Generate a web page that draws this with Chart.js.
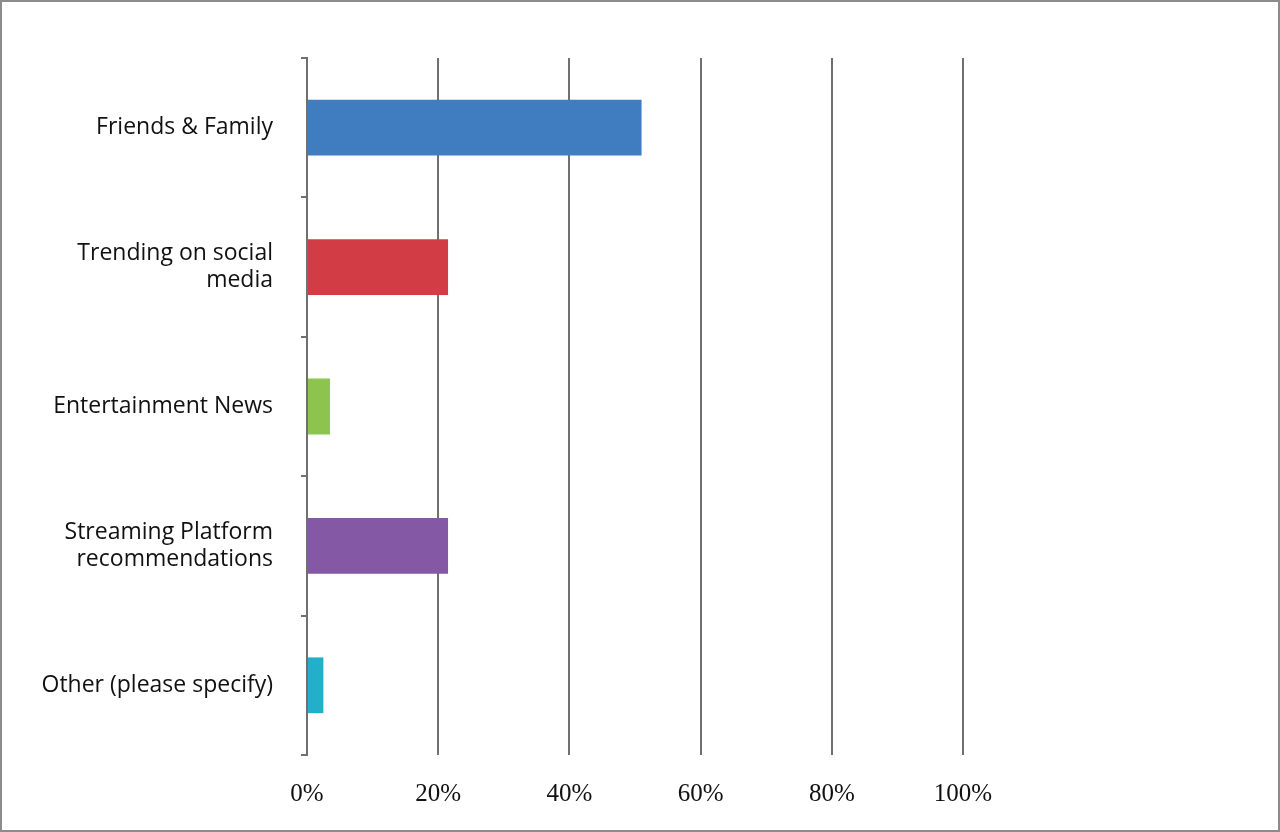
<!DOCTYPE html>
<html>
<head>
<meta charset="utf-8">
<script src="https://cdn.jsdelivr.net/npm/chart.js@4/dist/chart.umd.min.js"></script>
<style>
html,body{margin:0;padding:0;background:#fff;}
#wrap{position:absolute;left:0;top:0;width:1276px;height:828px;border:2px solid #8c8c8c;}
</style>
</head>
<body>
<div id="wrap"><canvas id="chart" width="1276" height="828"></canvas></div>
<script>
var categories = [["Friends & Family"], ["Trending on social", "media"], ["Entertainment News"], ["Streaming Platform", "recommendations"], ["Other (please specify)"]];
var values = [51, 21.5, 3.5, 21.5, 2.5];
var barColors = ["#3f7cc0", "#d23c44", "#8dc44e", "#8458a4", "#21afc9"];
var tickValues = [0, 20, 40, 60, 80, 100];

var ctx = document.getElementById("chart");
var myChart = new Chart(ctx, {
    type: 'bar',
    data: {
        labels: categories,
        datasets: [{
            data: values,
            backgroundColor: barColors,
            barPercentage: 0.4,
            categoryPercentage: 1
        }]
    },
    options: {
        indexAxis: 'y',
        responsive: false,
        animation: false,
        layout: { padding: { top: 56, right: 315, left: 0, bottom: 0 } },
        plugins: { legend: { display: false }, tooltip: { enabled: false } },
        scales: {
            x: {
                min: 0, max: 100,
                afterBuildTicks: function (axis) { axis.ticks = tickValues.map(function (v) { return { value: v }; }); },
                afterFit: function (axis) { axis.height = 828 - 753; },
                grid: { color: '#707070', lineWidth: 2, drawTicks: false },
                border: { display: false },
                ticks: {
                    padding: 24,
                    color: '#111',
                    font: { family: 'Liberation Serif', size: 25 },
                    callback: function (v) { return v + '%'; }
                }
            },
            y: {
                afterFit: function (axis) { axis.width = 305; },
                grid: { offset: true, drawOnChartArea: false, color: '#707070', lineWidth: 2, tickLength: 6 },
                border: { display: true, color: '#707070', width: 2 },
                ticks: {
                    padding: 28,
                    color: '#111',
                    font: { family: 'Open Sans', size: 23 }
                }
            }
        }
    }
});
</script>
</body>
</html>
